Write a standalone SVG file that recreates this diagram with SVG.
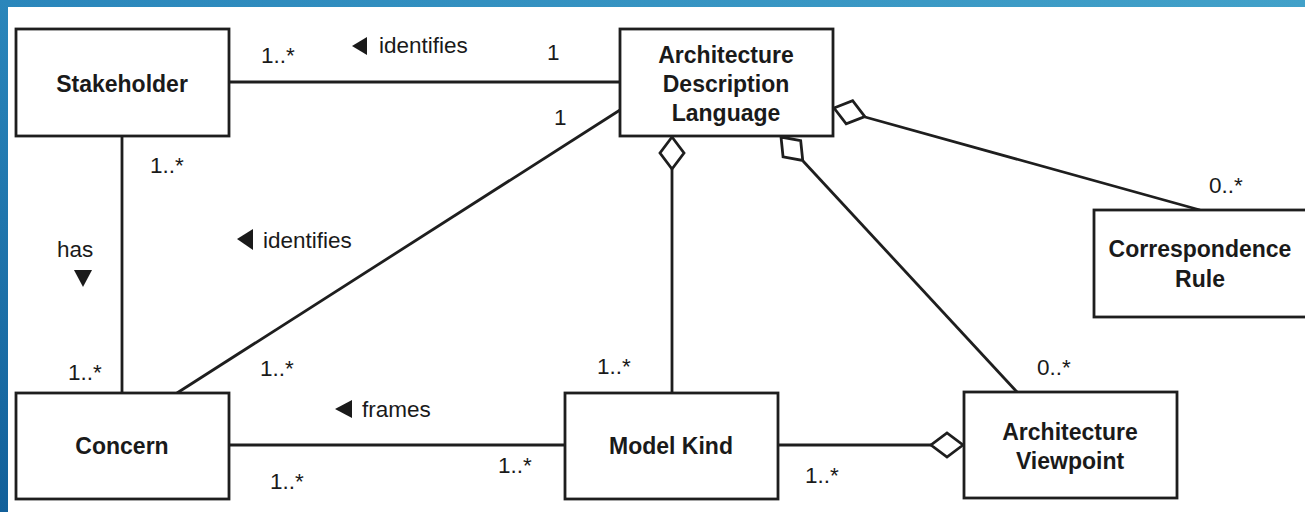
<svg xmlns="http://www.w3.org/2000/svg" xmlns:xlink="http://www.w3.org/1999/xlink" width="1305" height="512" viewBox="0 0 1305 512">
  <defs>
    <linearGradient id="bandTop" x1="0" y1="0" x2="1" y2="0">
      <stop offset="0" stop-color="#2a86bb"/>
      <stop offset="1" stop-color="#42a1c9"/>
    </linearGradient>
    <linearGradient id="bandLeft" x1="0" y1="0" x2="0" y2="1">
      <stop offset="0" stop-color="#2a86bb"/>
      <stop offset="1" stop-color="#12609a"/>
    </linearGradient>
    <!-- hollow aggregation diamond: tip at origin, body along +x -->
    <path id="diamond" d="M0,0 L16,-12 L32,0 L16,12 Z"/>
    <style>
      .box { fill: #ffffff; stroke: #1e1e1e; stroke-width: 2.8; }
      .title { font-family: "Liberation Sans", Arial, sans-serif; font-weight: bold; font-size: 23px; fill: #1a1a1a; text-anchor: middle; }
      .lbl { font-family: "Liberation Sans", Arial, sans-serif; font-size: 22.5px; fill: #1a1a1a; }
      .conn line { stroke: #1e1e1e; stroke-width: 2.8; }
      .dia { fill: #ffffff; stroke: #1e1e1e; stroke-width: 2.8; stroke-linejoin: miter; }
      .tri { fill: #1a1a1a; }
    </style>
  </defs>

  <!-- page background and frame bands -->
  <rect x="0" y="0" width="1305" height="512" fill="#ffffff"/>
  <rect x="0" y="0" width="1305" height="7" fill="url(#bandTop)"/>
  <rect x="0" y="0" width="8" height="512" fill="url(#bandLeft)"/>

  <!-- associations -->
  <g id="connectors" class="conn">
    <line x1="229" y1="82" x2="620" y2="82"/>
    <line x1="122" y1="136" x2="122" y2="393"/>
    <line x1="620" y1="110" x2="177" y2="393"/>
    <line x1="229" y1="445" x2="565" y2="445"/>
    <line x1="672" y1="169" x2="672" y2="393"/>
    <line x1="803" y1="161" x2="1017" y2="392"/>
    <line x1="865" y1="117" x2="1200" y2="210"/>
    <line x1="778" y1="445" x2="931" y2="445"/>
    <use href="#diamond" class="dia" transform="translate(672,137) rotate(90)"/>
    <use href="#diamond" class="dia" transform="translate(781,137) rotate(47.2)"/>
    <use href="#diamond" class="dia" transform="translate(834,108) rotate(15.6)"/>
    <use href="#diamond" class="dia" transform="translate(963,445) rotate(180)"/>

    <!-- multiplicities and role names -->
    <text class="lbl" x="261" y="63">1..*</text>
    <polygon class="tri" points="352,46 367,37 367,55"/>
    <text class="lbl" x="379" y="53">identifies</text>
    <text class="lbl" x="547" y="60">1</text>
    <text class="lbl" x="554" y="125">1</text>

    <text class="lbl" x="150" y="173">1..*</text>
    <text class="lbl" x="57" y="257">has</text>
    <polygon class="tri" points="74,270 92,270 83,287"/>
    <text class="lbl" x="68" y="380">1..*</text>

    <polygon class="tri" points="237,239 253,229 253,250"/>
    <text class="lbl" x="263" y="248">identifies</text>
    <text class="lbl" x="260" y="376">1..*</text>

    <polygon class="tri" points="335,409 352,400 352,418"/>
    <text class="lbl" x="362" y="417">frames</text>
    <text class="lbl" x="270" y="489">1..*</text>
    <text class="lbl" x="498" y="473">1..*</text>
    <text class="lbl" x="597" y="374">1..*</text>
    <text class="lbl" x="805" y="483">1..*</text>
    <text class="lbl" x="1037" y="375">0..*</text>
    <text class="lbl" x="1209" y="193">0..*</text>
  </g>

  <!-- classes -->
  <g id="stakeholder">
    <rect class="box" x="16" y="29" width="213" height="107"/>
    <text class="title" x="122" y="92">Stakeholder</text>
  </g>
  <g id="adl">
    <rect class="box" x="620" y="29" width="213" height="107"/>
    <text class="title" x="726" y="63">Architecture</text>
    <text class="title" x="726" y="92">Description</text>
    <text class="title" x="726" y="121">Language</text>
  </g>
  <g id="correspondence-rule">
    <rect class="box" x="1094" y="210" width="220" height="107"/>
    <text class="title" x="1200" y="257">Correspondence</text>
    <text class="title" x="1200" y="287">Rule</text>
  </g>
  <g id="concern">
    <rect class="box" x="16" y="393" width="213" height="106"/>
    <text class="title" x="122" y="454">Concern</text>
  </g>
  <g id="model-kind">
    <rect class="box" x="565" y="393" width="213" height="106"/>
    <text class="title" x="671" y="454">Model Kind</text>
  </g>
  <g id="architecture-viewpoint">
    <rect class="box" x="964" y="392" width="213" height="106"/>
    <text class="title" x="1070" y="440">Architecture</text>
    <text class="title" x="1070" y="469">Viewpoint</text>
  </g>
</svg>
